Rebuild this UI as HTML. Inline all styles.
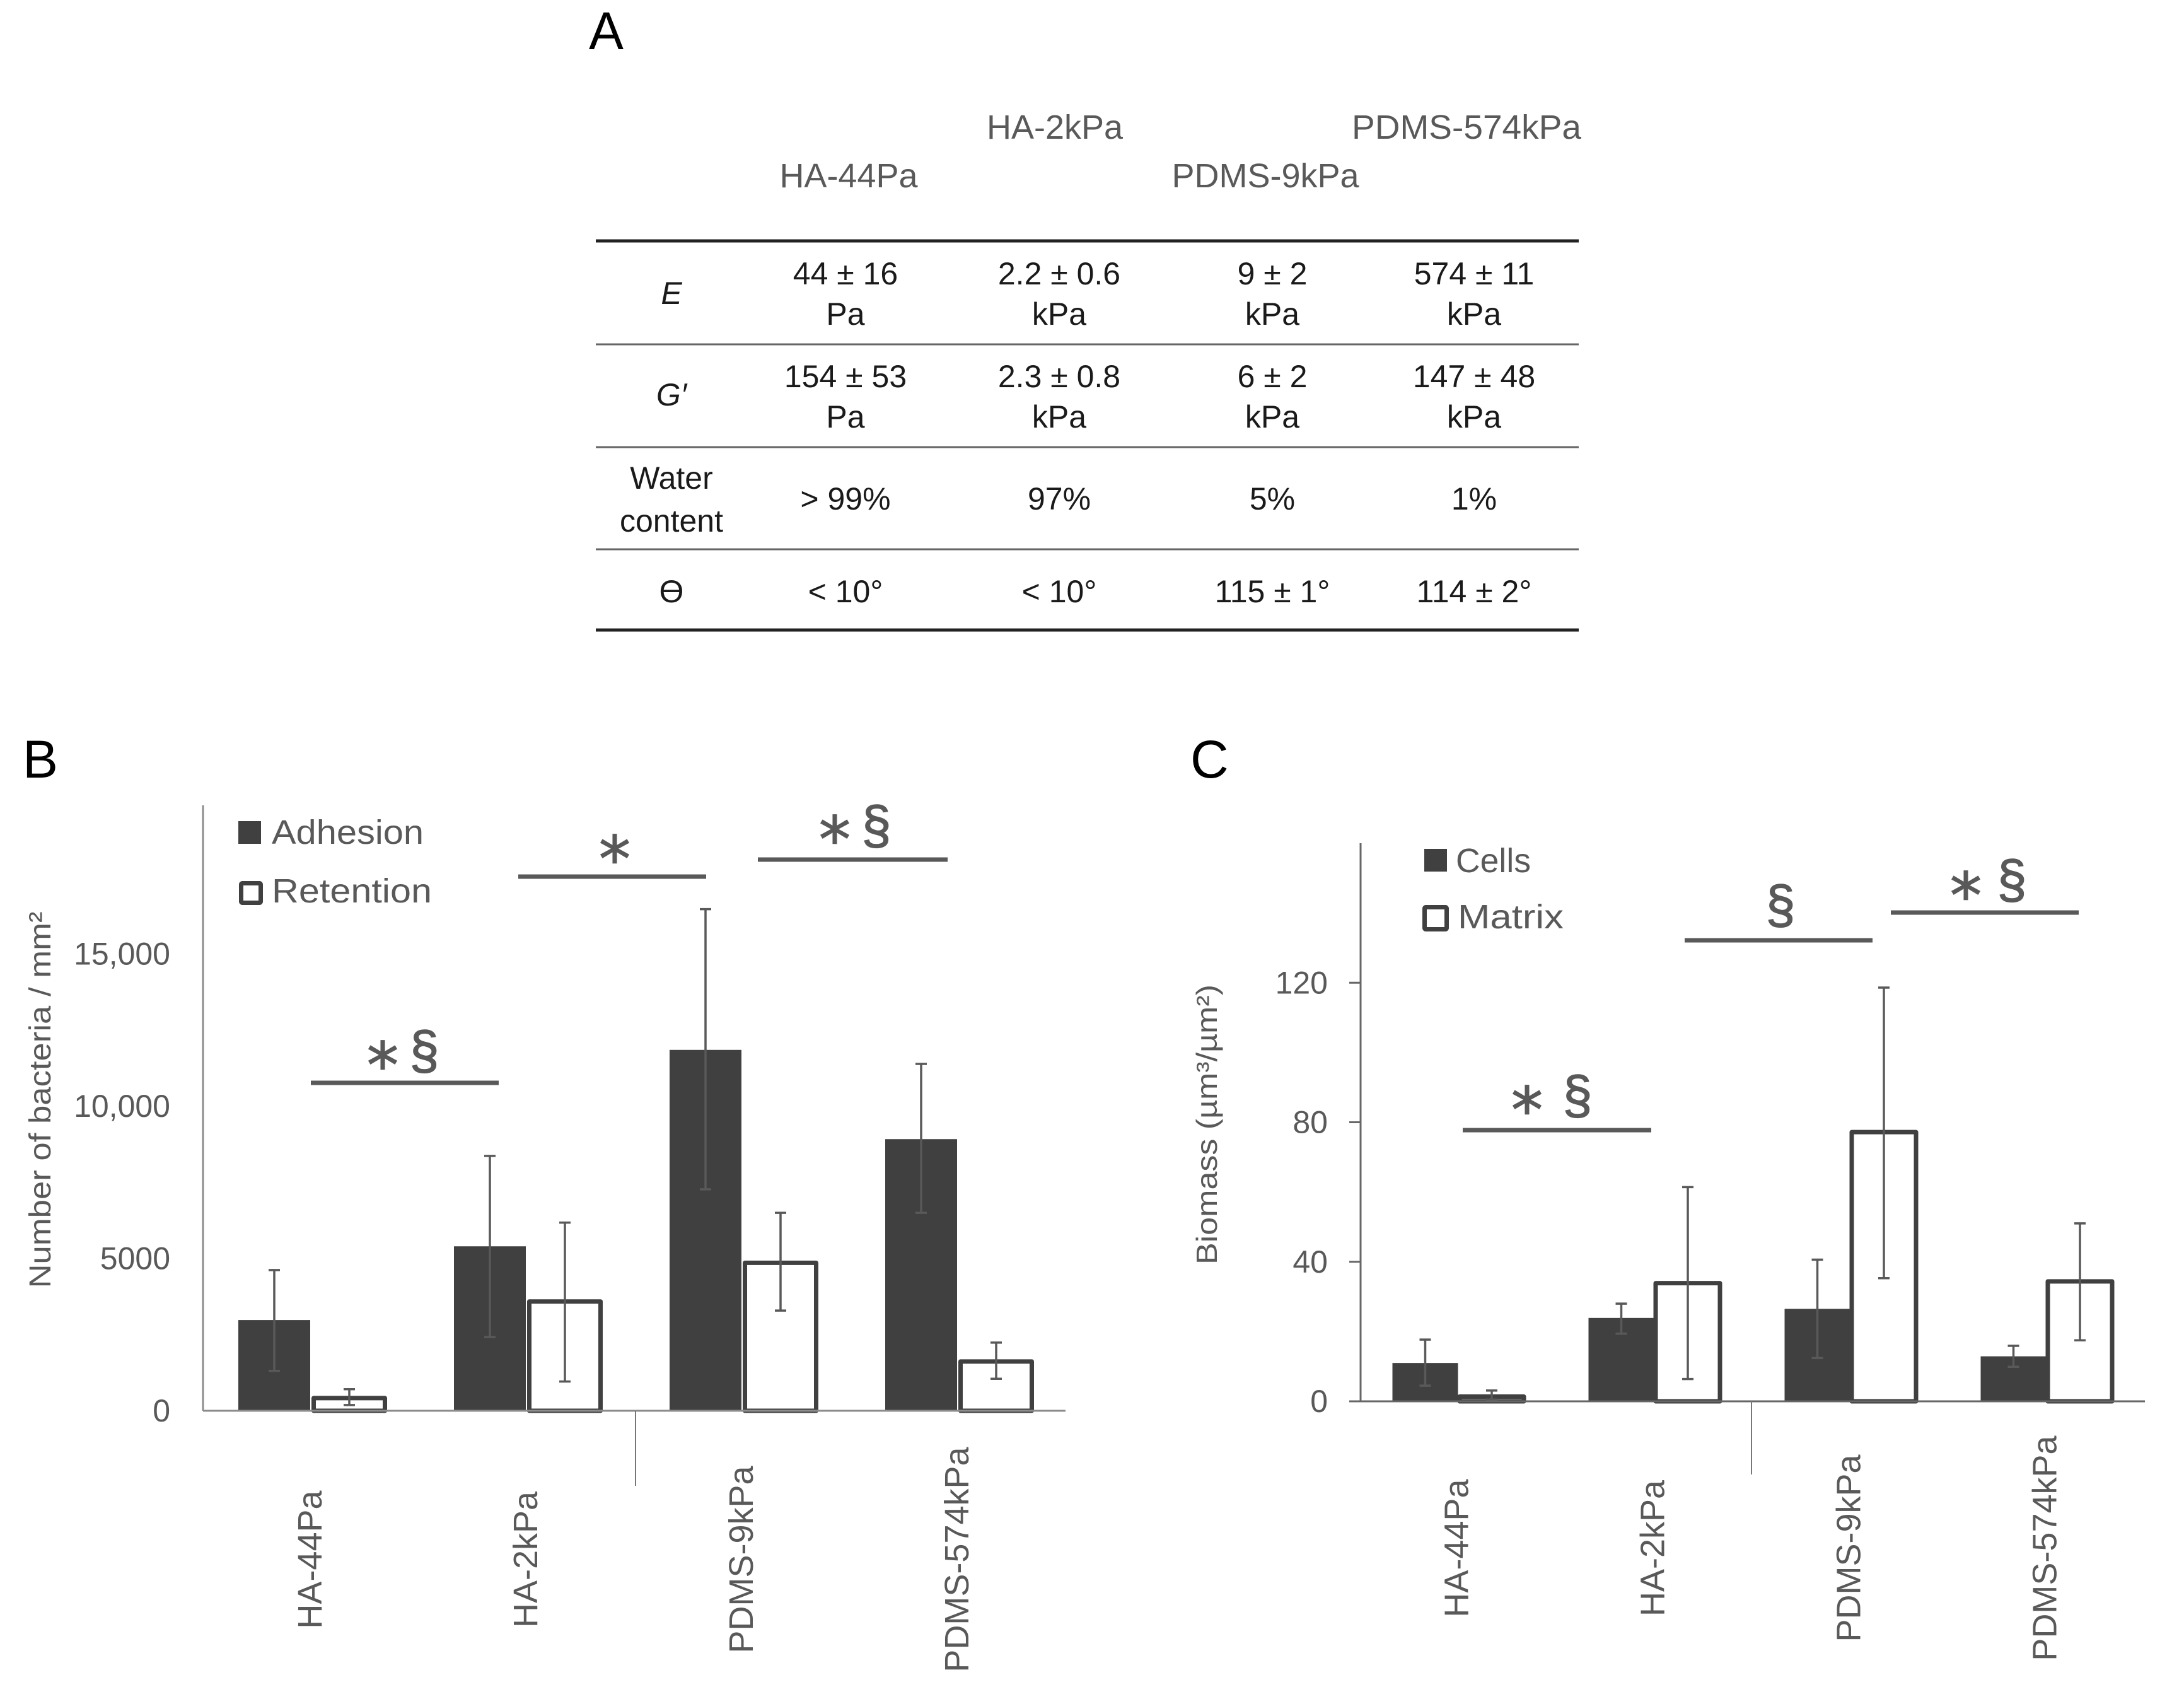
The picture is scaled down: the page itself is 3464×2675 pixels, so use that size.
<!DOCTYPE html>
<html lang="en">
<head>
<meta charset="utf-8">
<title>Substrate properties, bacterial adhesion and biomass</title>
<style>
html,body{margin:0;padding:0;background:#fff;}
svg{display:block;}
text{font-family:"Liberation Sans",sans-serif;}
.hdr{fill:#595959;font-size:54px;text-anchor:middle;}
.cell{fill:#1a1a1a;font-size:50px;text-anchor:middle;}
.panel{fill:#000;font-size:84px;}
.star{fill:#595959;font-family:"DejaVu Sans",sans-serif;font-size:100px;text-anchor:middle;stroke:#595959;stroke-width:1.5px;}
.sec{fill:#595959;font-size:84px;text-anchor:middle;stroke:#595959;stroke-width:1.5px;}
.leg{fill:#595959;font-size:54px;}
</style>
</head>
<body>
<svg id="fig" xmlns="http://www.w3.org/2000/svg" width="3464" height="2675" viewBox="0 0 3464 2675">
<rect x="0" y="0" width="3464" height="2675" fill="#fff"/>
<text class="panel" x="934" y="78" textLength="55" lengthAdjust="spacingAndGlyphs">A</text>
<text class="panel" x="36" y="1233">B</text>
<text class="panel" x="1888" y="1233">C</text>

<g>
<text class="hdr" x="1346" y="297">HA-44Pa</text>
<text class="hdr" x="1673" y="220">HA-2kPa</text>
<text class="hdr" x="2007" y="297">PDMS-9kPa</text>
<text class="hdr" x="2326" y="220" textLength="364" lengthAdjust="spacingAndGlyphs">PDMS-574kPa</text>
<line x1="945" x2="2504" y1="382" y2="382" stroke="#222" stroke-width="5"/>
<line x1="945" x2="2504" y1="546" y2="546" stroke="#666" stroke-width="3"/>
<line x1="945" x2="2504" y1="709" y2="709" stroke="#666" stroke-width="3"/>
<line x1="945" x2="2504" y1="871" y2="871" stroke="#666" stroke-width="3"/>
<line x1="945" x2="2504" y1="999" y2="999" stroke="#222" stroke-width="5"/>

<text class="cell" x="1065" y="482" font-style="italic">E</text>
<text class="cell" x="1341" y="451">44 ± 16</text>
<text class="cell" x="1341" y="515">Pa</text>
<text class="cell" x="1680" y="451">2.2 ± 0.6</text>
<text class="cell" x="1680" y="515">kPa</text>
<text class="cell" x="2018" y="451">9 ± 2</text>
<text class="cell" x="2018" y="515">kPa</text>
<text class="cell" x="2338" y="451">574 ± 11</text>
<text class="cell" x="2338" y="515">kPa</text>

<text class="cell" x="1065" y="643" font-style="italic">G′</text>
<text class="cell" x="1341" y="614">154 ± 53</text>
<text class="cell" x="1341" y="678">Pa</text>
<text class="cell" x="1680" y="614">2.3 ± 0.8</text>
<text class="cell" x="1680" y="678">kPa</text>
<text class="cell" x="2018" y="614">6 ± 2</text>
<text class="cell" x="2018" y="678">kPa</text>
<text class="cell" x="2338" y="614">147 ± 48</text>
<text class="cell" x="2338" y="678">kPa</text>

<text class="cell" x="1065" y="775">Water</text>
<text class="cell" x="1065" y="843">content</text>
<text class="cell" x="1341" y="808">&gt; 99%</text>
<text class="cell" x="1680" y="808">97%</text>
<text class="cell" x="2018" y="808">5%</text>
<text class="cell" x="2338" y="808">1%</text>

<text class="cell" x="1065" y="955">ϴ</text>
<text class="cell" x="1341" y="955">&lt; 10°</text>
<text class="cell" x="1680" y="955">&lt; 10°</text>
<text class="cell" x="2018" y="955">115 ± 1°</text>
<text class="cell" x="2338" y="955">114 ± 2°</text>
</g>

<g id="chartB"></g>
<g id="chartC"></g>

<g>
<line x1="493" x2="791" y1="1717" y2="1717" stroke="#595959" stroke-width="7"/>
<text class="star" x="607" y="1724">*</text>
<text class="sec" x="673" y="1694">§</text>
<line x1="822" x2="1120" y1="1390" y2="1390" stroke="#595959" stroke-width="7"/>
<text class="star" x="975" y="1397">*</text>
<line x1="1202" x2="1503" y1="1363" y2="1363" stroke="#595959" stroke-width="7"/>
<text class="star" x="1324" y="1366">*</text>
<text class="sec" x="1390" y="1337">§</text>
</g>
<g>
<line x1="2320" x2="2619" y1="1792" y2="1792" stroke="#595959" stroke-width="7"/>
<text class="star" x="2422" y="1795">*</text>
<text class="sec" x="2502" y="1765">§</text>
<line x1="2672" x2="2970" y1="1491" y2="1491" stroke="#595959" stroke-width="7"/>
<text class="sec" x="2824" y="1463">§</text>
<line x1="2999" x2="3297" y1="1447" y2="1447" stroke="#595959" stroke-width="7"/>
<text class="star" x="3118" y="1455">*</text>
<text class="sec" x="3191" y="1423">§</text>
</g>
</svg>

<script>
const categories = ['HA-44Pa', 'HA-2kPa', 'PDMS-9kPa', 'PDMS-574kPa'];

const adhesion = [2980, 5400, 11850, 8920];
const adhesionHigh = [4620, 8370, 16470, 11390];
const adhesionLow = [1310, 2420, 7270, 6500];
const retention = [490, 3660, 4930, 1690];
const retentionHigh = [710, 6180, 6500, 2240];
const retentionLow = [190, 960, 3290, 1050];
const adhesionTicks = [0, 5000, 10000, 15000];
const adhesionTickLabels = ['0', '5000', '10,000', '15,000'];

const cells = [11, 23.9, 26.5, 12.9];
const cellsHigh = [17.7, 28, 40.6, 15.9];
const cellsLow = [4.5, 19.4, 12.4, 9.9];
const matrix = [2, 34.5, 77.8, 35];
const matrixHigh = [3.1, 61.4, 118.6, 51];
const matrixLow = [0.5, 6.4, 35.3, 17.5];
const biomassTicks = [0, 40, 80, 120];
const biomassTickLabels = ['0', '40', '80', '120'];

const NS = 'http://www.w3.org/2000/svg';

function mk(parent, tag, attrs, text) {
  const el = document.createElementNS(NS, tag);
  for (const k in attrs) el.setAttribute(k, attrs[k]);
  if (text !== undefined) el.textContent = text;
  parent.appendChild(el);
  return el;
}

function drawChart(opt) {
  const g = document.getElementById(opt.id);
  const sx = i => opt.left + opt.band * (i + 0.5);
  const sy = v => opt.base - (v / opt.yMax) * (opt.base - opt.top);

  opt.ticks.forEach(function (t, i) {
    if (opt.tickLen) {
      const tick = mk(g, 'line', {x1: opt.left - opt.tickLen, x2: opt.left, y1: sy(t), y2: sy(t), stroke: opt.axisColor, 'stroke-width': 3});
      
      
    }
    const lab = mk(g, 'text', {x: opt.tickRight, y: sy(t) + 17, 'text-anchor': 'end', 'font-size': 50, fill: '#595959'}, opt.tickLabels[i]);
    
    
  });

  categories.forEach(function (c, i) {
    const cx = sx(i);
    const solid = mk(g, 'rect', {x: cx - opt.darkW - 1, y: sy(opt.dark[i]), width: opt.darkW, height: opt.base - sy(opt.dark[i]), fill: '#404040'});
    
    

    const outline = mk(g, 'rect', {x: cx + opt.gap + 3.5, y: sy(opt.light[i]) + 3.5, width: opt.lightW - 7, height: Math.max(0, opt.base - sy(opt.light[i]) - 3.5), fill: '#fff', stroke: '#404040', 'stroke-width': 7, 'stroke-linejoin': 'round'});
    
    

    [[cx - opt.darkW / 2 - 1, opt.darkHigh[i], opt.darkLow[i]], [cx + opt.gap + opt.lightW / 2, opt.lightHigh[i], opt.lightLow[i]]].forEach(function (e) {
      const stem = mk(g, 'line', {x1: e[0], x2: e[0], y1: sy(e[1]), y2: sy(e[2]), stroke: '#595959', 'stroke-width': 3.5});
      
      
      const capTop = mk(g, 'line', {x1: e[0] - 9, x2: e[0] + 9, y1: sy(e[1]), y2: sy(e[1]), stroke: '#595959', 'stroke-width': 3.5});
      
      
      const capLow = mk(g, 'line', {x1: e[0] - 9, x2: e[0] + 9, y1: sy(e[2]), y2: sy(e[2]), stroke: '#595959', 'stroke-width': 3.5});
      
      
    });

    const bx = cx + opt.catOffset;
    const lab = mk(g, 'text', {x: 0, y: 0, transform: 'translate(' + bx + ',' + opt.catCenter + ') rotate(-90)', 'text-anchor': 'middle', 'font-size': 54, fill: '#595959'}, c);
    
    
  });

  const yAxis = mk(g, 'line', {x1: opt.left, x2: opt.left, y1: opt.top, y2: opt.base, stroke: opt.axisColor, 'stroke-width': 3});
  
  
  const xAxis = mk(g, 'line', {x1: opt.left - opt.tickLen, x2: opt.left + opt.band * categories.length, y1: opt.base, y2: opt.base, stroke: opt.axisColor, 'stroke-width': 3});
  
  
  const sep = mk(g, 'line', {x1: opt.sepX, x2: opt.sepX, y1: opt.base, y2: opt.sepEnd, stroke: '#777', 'stroke-width': 2});
  
  

  const title = mk(g, 'text', {x: 0, y: 0, transform: 'translate(' + opt.titleX + ',' + opt.titleY + ') rotate(-90)', 'text-anchor': 'middle', 'font-size': opt.titleSize, fill: '#595959', textLength: opt.titleLen, lengthAdjust: 'spacingAndGlyphs'}, opt.title);
  
  

  const sw1 = mk(g, 'rect', {x: opt.leg1[0], y: opt.leg1[1], width: opt.leg1[2], height: opt.leg1[2], fill: '#404040'});
  
  
  const t1 = mk(g, 'text', {class: 'leg', x: opt.leg1[3], y: opt.leg1[4], textLength: opt.leg1[5], lengthAdjust: 'spacingAndGlyphs'}, opt.names[0]);
  
  
  const sw2 = mk(g, 'rect', {x: opt.leg2[0] + 3.5, y: opt.leg2[1] + 3.5, width: opt.leg2[2] - 7, height: opt.leg2[2] - 7, fill: '#fff', stroke: '#404040', 'stroke-width': 7, rx: 2});
  
  
  const t2 = mk(g, 'text', {class: 'leg', x: opt.leg2[3], y: opt.leg2[4], textLength: opt.leg2[5], lengthAdjust: 'spacingAndGlyphs'}, opt.names[1]);
  
  
}

drawChart({
  id: 'chartB', left: 322, band: 342, base: 2237, top: 1277, yMax: 19880,
  ticks: adhesionTicks, tickLabels: adhesionTickLabels, tickRight: 270, tickLen: 0,
  dark: adhesion, darkHigh: adhesionHigh, darkLow: adhesionLow,
  light: retention, lightHigh: retentionHigh, lightLow: retentionLow,
  darkW: 114, lightW: 120, gap: 1, catOffset: 17, catCenter: 2473,
  axisColor: '#8c8c8c', sepX: 1008, sepEnd: 2356,
  title: 'Number of bacteria / mm²', titleX: 80, titleY: 1744, titleSize: 48, titleLen: 597,
  names: ['Adhesion', 'Retention'],
  leg1: [378, 1302, 36, 431, 1338, 241],
  leg2: [379, 1397, 38, 431, 1431, 254]
});

drawChart({
  id: 'chartC', left: 2158, band: 311, base: 2222, top: 1337, yMax: 160,
  ticks: biomassTicks, tickLabels: biomassTickLabels, tickRight: 2106, tickLen: 18,
  dark: cells, darkHigh: cellsHigh, darkLow: cellsLow,
  light: matrix, lightHigh: matrixHigh, lightLow: matrixLow,
  darkW: 104, lightW: 109, gap: -2, catOffset: 15, catCenter: 2455,
  axisColor: '#666', sepX: 2778, sepEnd: 2338,
  title: 'Biomass (µm³/µm²)', titleX: 1930, titleY: 1783, titleSize: 46, titleLen: 444,
  names: ['Cells', 'Matrix'],
  leg1: [2259, 1346, 36, 2309, 1383, 119],
  leg2: [2256, 1435, 42, 2312, 1472, 168]
});
</script>
</body>
</html>
